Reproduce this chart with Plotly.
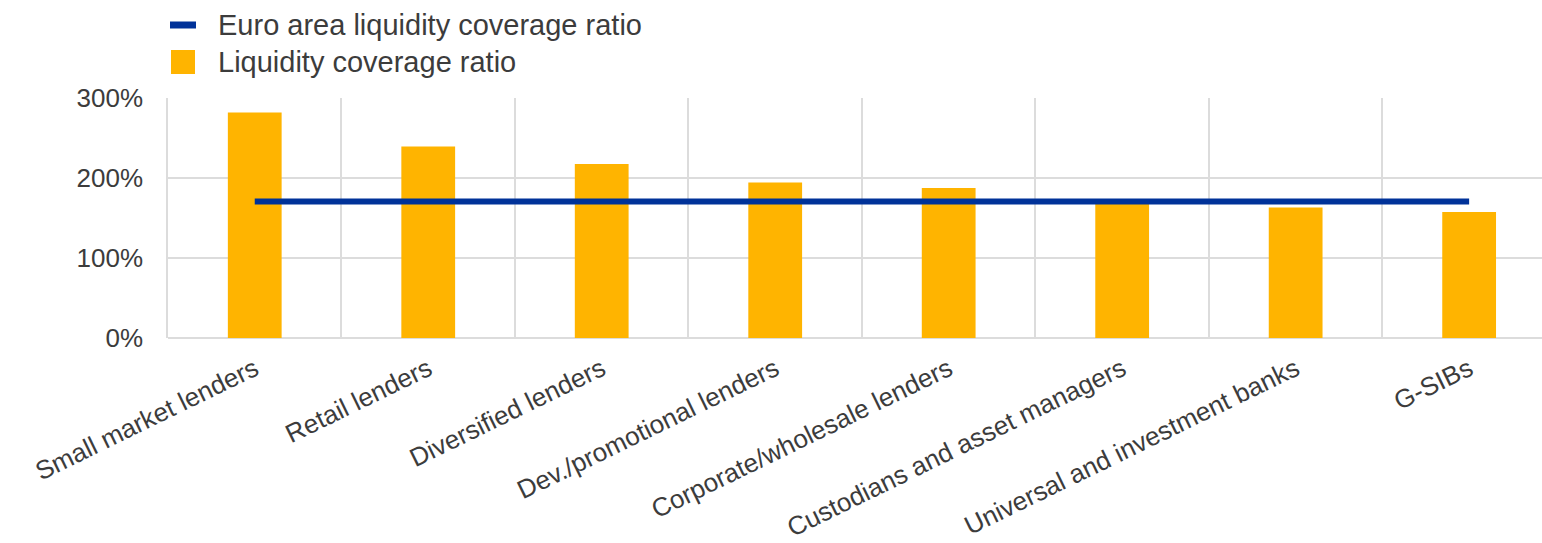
import plotly.graph_objects as go

categories = [
    "Small market lenders",
    "Retail lenders",
    "Diversified lenders",
    "Dev./promotional lenders",
    "Corporate/wholesale lenders",
    "Custodians and asset managers",
    "Universal and investment banks",
    "G-SIBs",
]
lcr_values = [282, 239.5, 217.5, 194.5, 187.5, 169, 163, 157.5]
euro_area_lcr = [170.7] * len(categories)
y_ticks = [0, 100, 200, 300]
y_tick_labels = ["0%", "100%", "200%", "300%"]
legend_names = ["Euro area liquidity coverage ratio", "Liquidity coverage ratio"]

ORANGE = "#FFB400"
BLUE = "#003299"
TEXT = "#3c3c3c"
GRID = "#dcdcdc"
FONT = "Liberation Sans, Arial, sans-serif"

W, H = 1542, 543
ML, MR, MT, MB = 168, 0, 98, 205
PW, PH = W - ML - MR, H - MT - MB


def px_x(px):
    return (px - ML) / PW


def px_y(py):
    return (H - MB - py) / PH


fig = go.Figure()
fig.add_trace(go.Scatter(
    x=categories, y=euro_area_lcr, mode="lines",
    name=legend_names[0], showlegend=False,
    line=dict(color=BLUE, width=6),
))
fig.add_trace(go.Bar(
    x=categories, y=lcr_values,
    name=legend_names[1], showlegend=False,
    marker=dict(color=ORANGE, line=dict(width=0)),
    width=0.31,
))

# Legend drawn as shapes + text (larger symbols like the reference)
fig.add_shape(type="line", xref="paper", yref="paper",
              x0=px_x(170), x1=px_x(196), y0=px_y(25), y1=px_y(25),
              line=dict(color=BLUE, width=7))
fig.add_shape(type="rect", xref="paper", yref="paper",
              x0=px_x(171), x1=px_x(195), y0=px_y(74), y1=px_y(50),
              line=dict(width=0), fillcolor=ORANGE)
fig.add_annotation(xref="paper", yref="paper", x=px_x(216), y=px_y(25),
                   text=legend_names[0], showarrow=False,
                   xanchor="left", yanchor="middle",
                   font=dict(family=FONT, size=29, color=TEXT))
fig.add_annotation(xref="paper", yref="paper", x=px_x(216), y=px_y(62),
                   text=legend_names[1], showarrow=False,
                   xanchor="left", yanchor="middle",
                   font=dict(family=FONT, size=29, color=TEXT))

fig.update_layout(
    width=W, height=H,
    margin=dict(l=ML, r=MR, t=MT, b=MB),
    paper_bgcolor="white", plot_bgcolor="white",
    font=dict(family=FONT, size=26, color=TEXT),
    showlegend=False,
    xaxis=dict(
        type="category",
        range=[-0.5, 7.42],
        tickson="boundaries",
        showgrid=True, gridcolor=GRID, gridwidth=1.5,
        ticks="", tickangle=-26, ticklabelstandoff=10,
        showline=False, zeroline=False,
        tickfont=dict(family=FONT, size=26, color=TEXT),
    ),
    yaxis=dict(
        range=[0, 300],
        tickvals=y_ticks, ticktext=y_tick_labels,
        showgrid=True, gridcolor=GRID, gridwidth=1.5,
        zeroline=True, zerolinecolor=GRID, zerolinewidth=1.5,
        showline=True, linecolor=GRID, linewidth=1.5,
        ticks="", ticklabelstandoff=18,
        tickfont=dict(family=FONT, size=26, color=TEXT),
    ),
)

fig.write_html("out.html")
